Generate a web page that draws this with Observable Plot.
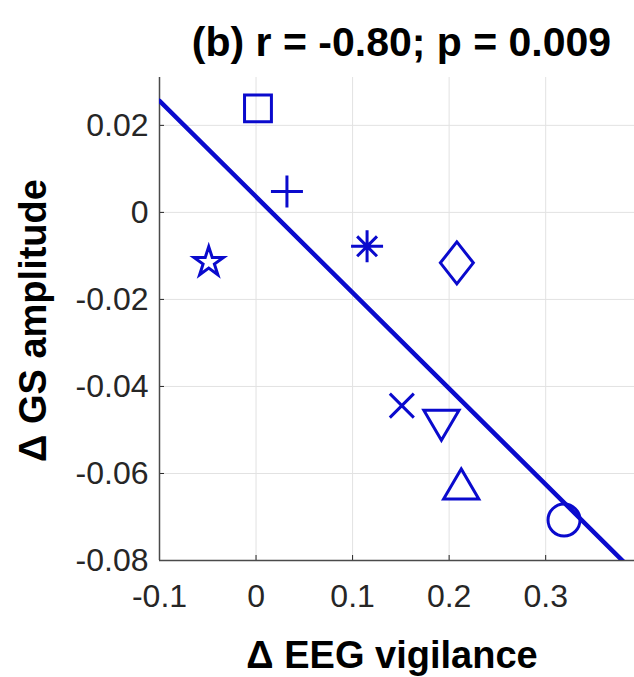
<!DOCTYPE html>
<html>
<head>
<meta charset="utf-8">
<script src="https://cdn.jsdelivr.net/npm/d3@7"></script>
<script src="https://cdn.jsdelivr.net/npm/@observablehq/plot@0.6"></script>
<style>
  html, body { margin: 0; padding: 0; background: #ffffff; }
</style>
</head>
<body>
<div id="chart"></div>
<script>
// ---- data ----
const shapes      = ["square", "plus", "star", "asterisk", "diamond", "times", "triDown", "triUp", "circle"];
const eegVigil    = [0.002, 0.032, -0.049, 0.115, 0.208, 0.151, 0.192, 0.2125, 0.319];
const gsAmplitude = [0.0239, 0.0048, -0.0111, -0.0078, -0.0116, -0.0444, -0.0489, -0.0624, -0.0707];

const xTicks = [-0.1, 0, 0.1, 0.2, 0.3];
const xTickLabels = ["-0.1", "0", "0.1", "0.2", "0.3"];
const yTicks = [-0.08, -0.06, -0.04, -0.02, 0, 0.02];
const yTickLabels = ["-0.08", "-0.06", "-0.04", "-0.02", "0", "0.02"];
const xLimits = [-0.1, 0.392];
const yLimits = [-0.08, 0.031];

const titleText = "(b) r = -0.80; p = 0.009";
const xLabel = "\u0394 EEG vigilance";
const yLabel = "\u0394 GS amplitude";

// ---- derived table ----
const data = shapes.map((s, i) => ({shape: s, x: eegVigil[i], y: gsAmplitude[i]}));

// least-squares regression line across the x-axis extent
const mx = d3.mean(data, d => d.x), my = d3.mean(data, d => d.y);
const slope = d3.sum(data, d => (d.x - mx) * (d.y - my)) / d3.sum(data, d => (d.x - mx) ** 2);
const intercept = my - slope * mx;
const regLine = xLimits.map(x => ({x, y: intercept + slope * x}));

// ---- MATLAB-like marker shapes ----
const rad = s => Math.sqrt(s / Math.PI);
const symbols = {
  square:   {draw(c, s) { const r = rad(s) * 0.84; c.rect(-r, -r, 2 * r, 2 * r); }},
  circle:   {draw(c, s) { const r = rad(s); c.moveTo(r, 0); c.arc(0, 0, r, 0, 2 * Math.PI); c.closePath(); }},
  plus:     {draw(c, s) { const r = rad(s); c.moveTo(-r, 0); c.lineTo(r, 0); c.moveTo(0, -r); c.lineTo(0, r); }},
  times:    {draw(c, s) { const r = rad(s) * 0.75; c.moveTo(-r, -r); c.lineTo(r, r); c.moveTo(-r, r); c.lineTo(r, -r); }},
  asterisk: {draw(c, s) { const r = rad(s), q = r * 0.62;
    c.moveTo(-r, 0); c.lineTo(r, 0); c.moveTo(0, -r); c.lineTo(0, r);
    c.moveTo(-q, -q); c.lineTo(q, q); c.moveTo(-q, q); c.lineTo(q, -q); }},
  diamond:  {draw(c, s) { const r = rad(s); const w = r * 1.03, h = r * 1.31;
    c.moveTo(0, -h); c.lineTo(w, 0); c.lineTo(0, h); c.lineTo(-w, 0); c.closePath(); }},
  triUp:    {draw(c, s) { const r = rad(s); const w = r * 1.1, h = r * 0.94;
    c.moveTo(0, -h); c.lineTo(w, h); c.lineTo(-w, h); c.closePath(); }},
  triDown:  {draw(c, s) { const r = rad(s); const w = r * 1.1, h = r * 0.94;
    c.moveTo(0, h); c.lineTo(w, -h); c.lineTo(-w, -h); c.closePath(); }},
  star:     {draw(c, s) { const R = rad(s) * 0.97, ri = R * 0.382, off = R * 0.0955;
    for (let i = 0; i < 10; i++) {
      const a = -Math.PI / 2 + i * Math.PI / 5, rr = i % 2 ? ri : R;
      const px = rr * Math.cos(a), py = rr * Math.sin(a) + off;
      i ? c.lineTo(px, py) : c.moveTo(px, py);
    }
    c.closePath(); }}
};

const blue = "#0a0acd";
const axisColor = "#262626";
const font = "Liberation Sans, Arial, Helvetica, sans-serif";

const chart = Plot.plot({
  width: 634,
  height: 677,
  marginLeft: 159,
  marginRight: 0,
  marginTop: 77,
  marginBottom: 117,
  style: {fontFamily: font, background: "#ffffff", color: axisColor},
  x: {domain: xLimits, label: null},
  y: {domain: yLimits, label: null},
  symbol: {domain: shapes, range: shapes.map(s => symbols[s])},
  marks: [
    Plot.gridX(xTicks, {stroke: "#e2e2e2", strokeOpacity: 1, strokeWidth: 1}),
    Plot.gridY(yTicks, {stroke: "#e2e2e2", strokeOpacity: 1, strokeWidth: 1}),
    // inward tick marks
    Plot.axisX({ticks: xTicks, tickSize: 5, dy: -5, tickFormat: () => "", label: null, stroke: axisColor}),
    Plot.axisY({ticks: yTicks, tickSize: 5, dx: 5, tickFormat: () => "", label: null, stroke: axisColor}),
    // tick labels
    Plot.axisX({ticks: xTicks, tickSize: 0, tickPadding: 24, fontSize: 32, fill: axisColor,
      tickFormat: d => xTickLabels[xTicks.indexOf(d)], label: null}),
    Plot.axisY({ticks: yTicks, tickSize: 0, tickPadding: 11, fontSize: 32, fill: axisColor,
      tickFormat: d => yTickLabels[yTicks.indexOf(d)], label: null}),
    // axis lines (left and bottom)
    Plot.ruleX([xLimits[0]], {stroke: "#4a4a4a", strokeWidth: 1.5}),
    Plot.ruleY([yLimits[0]], {stroke: "#4a4a4a", strokeWidth: 1.5}),
    // regression line
    Plot.line(regLine, {x: "x", y: "y", stroke: blue, strokeWidth: 4.5, clip: true}),
    // markers
    Plot.dot(data, {x: "x", y: "y", symbol: "shape", r: 16, fill: "none", stroke: blue, strokeWidth: 3}),
    // title and axis labels
    Plot.text([titleText], {frameAnchor: "top", textAnchor: "middle", lineAnchor: "bottom", dx: 4.5, dy: -22,
      fontSize: 41, fontWeight: "bold", fill: "#000000"}),
    Plot.text([xLabel], {frameAnchor: "bottom", textAnchor: "middle", lineAnchor: "bottom", dx: -5, dy: 107,
      fontSize: 38, fontWeight: "bold", fill: "#000000"}),
    Plot.text([yLabel], {frameAnchor: "left", textAnchor: "middle", lineAnchor: "middle", rotate: -90, dx: -126, dy: 1.5,
      fontSize: 38, fontWeight: "bold", fill: "#000000"})
  ]
});

document.getElementById("chart").appendChild(chart);
</script>
</body>
</html>
